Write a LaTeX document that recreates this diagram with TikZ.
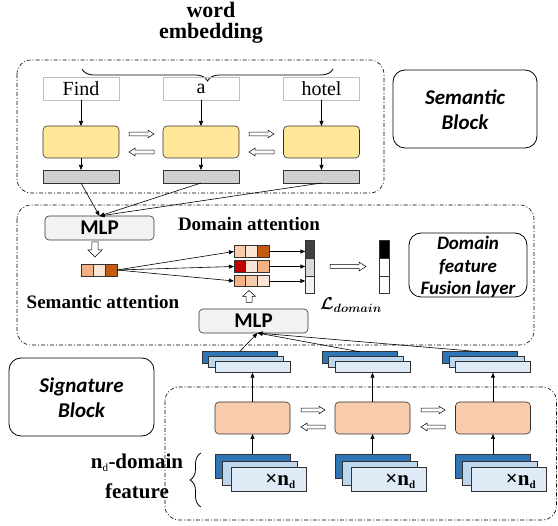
\documentclass[tikz,border=0pt]{standalone}
\usepackage{amsmath}
\usepackage{bm}
\usepackage{fontspec}
\setmainfont{Liberation Serif}
\newfontfamily\calib{Carlito}
\usetikzlibrary{arrows.meta,decorations.pathreplacing,calc}
\definecolor{yel}{HTML}{FFE699}
\definecolor{barg}{HTML}{D0CECE}
\definecolor{mlpg}{HTML}{F2F2F2}
\definecolor{ora}{HTML}{F8CBAD}
\definecolor{oraL}{HTML}{FBE5D6}
\definecolor{oraM}{HTML}{F4B183}
\definecolor{oraD}{HTML}{C55A11}
\definecolor{redD}{HTML}{C00000}
\definecolor{bluD}{HTML}{2E75B6}
\definecolor{bluM}{HTML}{BDD7EE}
\definecolor{bluL}{HTML}{DEEBF7}
\definecolor{gD}{HTML}{404040}
\definecolor{gM}{HTML}{D9D9D9}
\definecolor{gL}{HTML}{F2F2F2}
\tikzset{
  every node/.style={inner sep=0pt, outer sep=0pt},
  conn/.style={-{Triangle[length=5pt,width=4pt]}, line width=0.6pt},
  dashbox/.style={draw, line width=0.6pt, rounded corners=14pt, dash pattern=on 4pt off 2pt on 1pt off 2pt},
  blockbox/.style={draw, line width=0.8pt, rounded corners=12pt},
  wordbox/.style={draw=black!25, line width=0.6pt, minimum width=76pt, minimum height=23pt, font=\fontsize{20}{22}\selectfont},
  cellbox/.style={draw=black!80, line width=0.6pt, rounded corners=4pt, minimum width=76pt, minimum height=32pt},
  grbar/.style={draw=black!80, fill=barg, line width=0.6pt, minimum width=76pt, minimum height=13pt},
  mlpbox/.style={draw=black!80, fill=mlpg, line width=0.6pt, rounded corners=4pt, minimum width=109pt, minimum height=24pt, font=\calib\bfseries\fontsize{21}{22}\selectfont},
  vcell/.style={draw=black!80, line width=0.6pt, minimum width=11.7pt, minimum height=11.5pt},
  ccell/.style={draw=black!80, line width=0.6pt, minimum width=9.5pt},
  ulayer/.style={draw=black!80, line width=0.6pt, minimum width=75pt, minimum height=11.5pt},
  blayer/.style={draw=black!80, line width=0.6pt, minimum width=75pt, minimum height=24pt},
  lbl/.style={font=\bfseries\fontsize{19}{21}\selectfont},
  blk/.style={font=\calib\bfseries\itshape\fontsize{21}{25}\selectfont, align=center},
  pics/barrow/.style n args={4}{code={
    \draw[fill=white, line width=0.5pt] (-#1/2,-#2) -- (#1/2-#4,-#2) -- (#1/2-#4,-#3) -- (#1/2,0)
      -- (#1/2-#4,#3) -- (#1/2-#4,#2) -- (-#1/2,#2) -- cycle;}}
}
\begin{document}
\begin{tikzpicture}[x=1pt,y=-1pt]
\useasboundingbox (0,0) rectangle (558,526);

% ---------- semantic block ----------
\node[align=center, font=\bfseries\fontsize{22}{20.5}\selectfont] (we) at (211,23) {word\\embedding};
\draw[dashbox] (17,60) rectangle (384,193);
\draw[decorate, decoration={brace, amplitude=12pt, mirror}, line width=0.8pt] (82,69) -- (333,69);
\node[blockbox, minimum width=144pt, minimum height=78pt] (semb) at (465,109) {};
\node[blk] (semt) at (465,110) {Semantic\\Block};

\foreach \i/\x/\w in {1/81/Find, 2/201/a, 3/321.5/hotel}{
  \node[wordbox] (w\i) at (\x,88.5) {\w};
  \node[cellbox, fill=yel] (y\i) at (\x,142) {};
  \node[grbar] (g\i) at (\x,176.5) {};
  \draw[conn] (w\i.south) -- (y\i.north);
  \draw[conn] (y\i.south) -- (g\i.north);
}
\pic at (141.5,134) {barrow={25}{1.8}{3.8}{6}};
\pic[rotate=180] at (141.5,152) {barrow={25}{1.8}{3.8}{6}};
\pic at (261.5,134) {barrow={25}{1.8}{3.8}{6}};
\pic[rotate=180] at (261.5,152) {barrow={25}{1.8}{3.8}{6}};

% ---------- domain fusion ----------
\draw[dashbox] (17,205) rectangle (534,345);
\node[mlpbox] (mlp1) at (99.5,228) {MLP};
\foreach \i in {1,2,3}{ \draw[conn] (g\i.south) -- (mlp1.north); }
\node[lbl] (da) at (249,224) {Domain attention};
\pic[rotate=-90] at (95,249.5) {barrow={15}{3.2}{7}{7}};

\node[vcell, fill=oraM, minimum width=12pt, minimum height=12pt] (s1) at (87,270) {};
\node[vcell, fill=oraL, minimum width=12pt, minimum height=12pt] (s2) at (99,270) {};
\node[vcell, fill=oraD, minimum width=12pt, minimum height=12pt] (s3) at (111,270) {};

\foreach \r/\yy/\ca/\cb/\cc in {1/251.5/ora/oraL/oraD, 2/266.5/redD/oraL/oraM, 3/281/oraM/ora/oraL}{
  \node[vcell, fill=\ca] (r\r a) at (239.8,\yy) {};
  \node[vcell, fill=\cb] (r\r b) at (251.5,\yy) {};
  \node[vcell, fill=\cc] (r\r c) at (263.2,\yy) {};
  \draw[conn] (s3.east) -- (r\r a.west);
}
\node[ccell, fill=gD, minimum height=18pt] (c1) at (310,249) {};
\node[ccell, fill=gM, minimum height=18pt] (c2) at (310,267) {};
\node[ccell, fill=gL, minimum height=17pt] (c3) at (310,284.5) {};
\draw[conn] (r1c.east) -- (r1c.east -| c1.west);
\draw[conn] (r2c.east) -- (r2c.east -| c2.west);
\draw[conn] (r3c.east) -- (r3c.east -| c3.west);
\node[ccell, fill=black, minimum height=18pt] (d1) at (384.5,249) {};
\node[ccell, fill=white, minimum height=18pt] (d2) at (384.5,267) {};
\node[ccell, fill=white, minimum height=17pt] (d3) at (384.5,284.5) {};
\pic at (348,266.5) {barrow={36}{2}{4.5}{7}};
\node (ld) at (351,305) {\fontsize{18}{20}\selectfont$\bm{\mathcal{L}}_{\bm{domain}}$};
\node[lbl] (sa) at (103,302) {Semantic attention};
\pic[rotate=90] at (249,296.5) {barrow={12}{3}{6.5}{6}};
\node[mlpbox] (mlp2) at (253.5,321) {MLP};
\node[blockbox, minimum width=118pt, minimum height=64pt] (fusb) at (468,265) {};
\node[blk, font=\calib\bfseries\itshape\fontsize{19}{22.5}\selectfont] (fust) at (468,267) {Domain\\feature\\Fusion layer};

% ---------- signature block ----------
\node[blockbox, minimum width=145pt, minimum height=78pt] (sigb) at (81.5,397) {};
\node[blk] (sigt) at (81.5,398) {Signature\\Block};
\draw[dashbox] (165,387) rectangle (556.5,520);

\foreach \i/\x in {1/252.5, 2/372.5, 3/493}{
  % upper stacks
  \node[ulayer, fill=bluD] (ud\i) at ($(\x,367)+(-13,-9.5)$) {};
  \node[ulayer, fill=bluM] (um\i) at ($(\x,367)+(-6.5,-5)$) {};
  \node[ulayer, fill=bluL] (uf\i) at (\x,367) {};
  % orange cells
  \node[cellbox, fill=ora, minimum width=75pt] (o\i) at (\x,418) {};
  \draw[conn] (o\i.north) -- (uf\i.south);
  % bottom stacks
  \node[blayer, fill=bluD] (bd\i) at (\x,466) {};
  \node[blayer, fill=bluM] (bm\i) at ($(\x,466)+(7,7)$) {};
  \node[blayer, fill=bluL] (bf\i) at ($(\x,466)+(16,13.5)$) {};
  \node[font=\bfseries\fontsize{21}{22}\selectfont] (bt\i) at ($(bf\i.center)+(12,2)$) {×n\textsubscript{\fontsize{11}{11}\selectfont d}};
  \draw[conn] (bd\i.north) -- (o\i.south);
  \draw[conn] (ud\i.north) -- ([xshift=4pt]mlp2.south);
}
\pic at (313,410) {barrow={24}{1.8}{3.8}{6}};
\pic[rotate=180] at (313,427) {barrow={24}{1.8}{3.8}{6}};
\pic at (433,410) {barrow={24}{1.8}{3.8}{6}};
\pic[rotate=180] at (433,427) {barrow={24}{1.8}{3.8}{6}};

\node[font=\bfseries\fontsize{21}{30}\selectfont, align=center] (nd) at (137,476) {n\textsubscript{\fontsize{11}{11}\selectfont\mdseries d}-domain\\feature};
\draw[decorate, decoration={brace, amplitude=11pt}, line width=0.8pt] (201,507) -- (201,453);
\end{tikzpicture}
\end{document}
